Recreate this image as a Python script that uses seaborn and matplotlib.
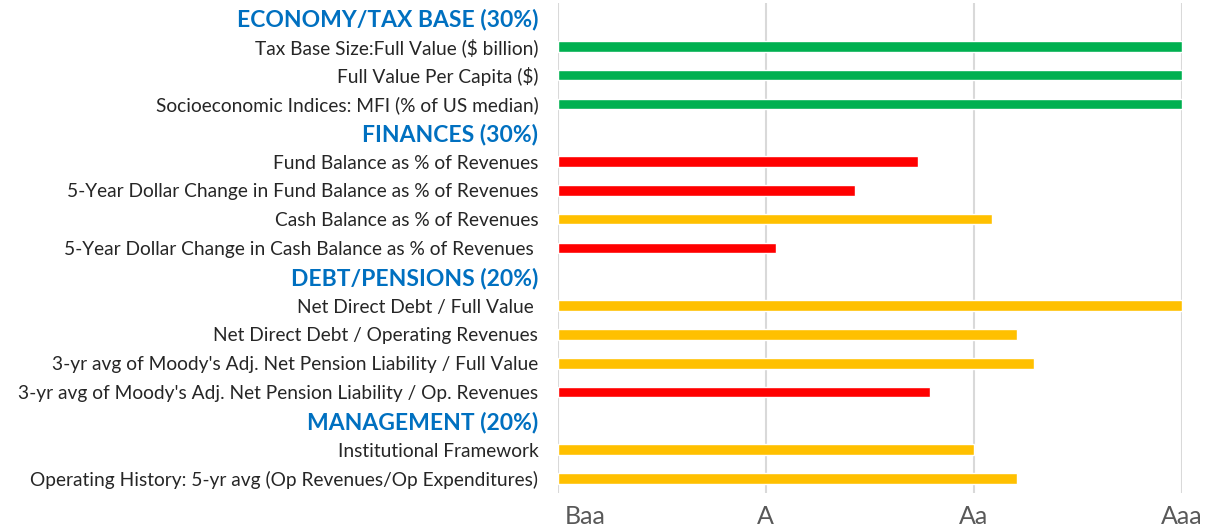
import matplotlib
matplotlib.use("Agg")
import matplotlib.pyplot as plt
import matplotlib.transforms as mtransforms
import pandas as pd
import seaborn as sns

# rows from top to bottom; section headers carry no score
labels = [
    "ECONOMY/TAX BASE (30%)",
    "Tax Base Size:Full Value ($ billion)",
    "Full Value Per Capita ($)",
    "Socioeconomic Indices: MFI (% of US median)",
    "FINANCES (30%)",
    "Fund Balance as % of Revenues",
    "5-Year Dollar Change in Fund Balance as % of Revenues",
    "Cash Balance as % of Revenues",
    "5-Year Dollar Change in Cash Balance as % of Revenues ",
    "DEBT/PENSIONS (20%)",
    "Net Direct Debt / Full Value ",
    "Net Direct Debt / Operating Revenues",
    "3-yr avg of Moody's Adj. Net Pension Liability / Full Value",
    "3-yr avg of Moody's Adj. Net Pension Liability / Op. Revenues",
    "MANAGEMENT (20%)",
    "Institutional Framework",
    "Operating History: 5-yr avg (Op Revenues/Op Expenditures)",
]
headers = ["ECONOMY/TAX BASE (30%)", "FINANCES (30%)",
           "DEBT/PENSIONS (20%)", "MANAGEMENT (20%)"]

# score on the rating scale: Baa=0, A=1, Aa=2, Aaa=3
scores = [None, 3.0, 3.0, 3.0,
          None, 1.73, 1.43, 2.09, 1.05,
          None, 3.0, 2.21, 2.29, 1.79,
          None, 2.0, 2.21]
status = [None, "strong", "strong", "strong",
          None, "weak", "weak", "mid", "weak",
          None, "mid", "mid", "mid", "weak",
          None, "mid", "mid"]

ratings = ["Baa", "A", "Aa", "Aaa"]
palette = {"strong": "#00B050", "mid": "#FFC000", "weak": "#FF0000"}

df = pd.DataFrame({"label": labels, "score": scores, "status": status})

sns.set_style("white")
plt.rcParams["font.family"] = ["Lato", "DejaVu Sans"]

fig = plt.figure(figsize=(12.18, 5.31), dpi=100)
ax = fig.add_axes([0.4579, 0.0716, 0.9702 - 0.4579, 0.9944 - 0.0716])

sns.barplot(data=df.dropna(), x="score", y="label", hue="status",
            order=labels, palette=palette, dodge=False, width=0.37,
            saturation=1, orient="h", legend=False, ax=ax)

ax.set_xlim(0, 3)
ax.set_ylim(len(labels) - 0.5, -0.5)
ax.set_xticks(range(len(ratings)))
ax.set_xticklabels(ratings)
ax.set_xlabel("")
ax.set_ylabel("")
ax.grid(axis="x", color="#D9D9D9", linewidth=1.5)
ax.grid(axis="y", visible=False)
ax.set_axisbelow(True)
for s in ax.spines.values():
    s.set_visible(False)

ax.tick_params(axis="y", length=0, pad=14, labelsize=13.8, labelcolor="#262626")
ax.tick_params(axis="x", length=0, pad=9, labelsize=18, labelcolor="#595959")

for t in ax.get_yticklabels():
    if t.get_text() in headers:
        t.set_color("#0070C0")
        t.set_fontweight("bold")
        t.set_fontsize(16.5)

first = ax.get_xticklabels()[0]
first.set_horizontalalignment("left")
first.set_transform(first.get_transform() +
                    mtransforms.ScaledTranslation(7 / 100, 0, fig.dpi_scale_trans))

fig.savefig("out.png", dpi=100)
